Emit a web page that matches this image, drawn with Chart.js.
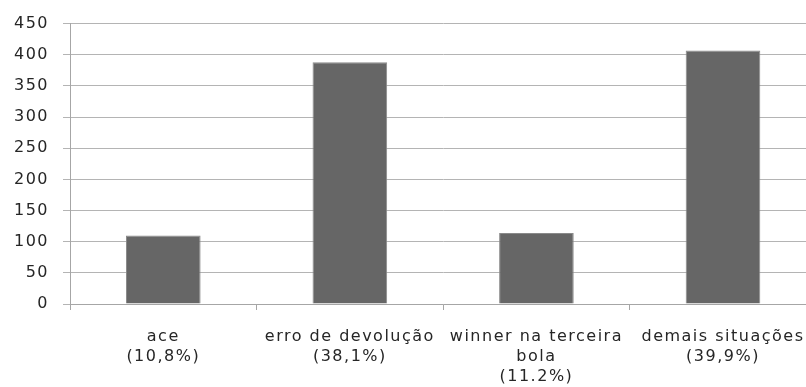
<!DOCTYPE html>
<html>
<head>
<meta charset="utf-8">
<script src="https://cdn.jsdelivr.net/npm/chart.js@4"></script>
<style>
  html, body { margin: 0; padding: 0; background: #fff; overflow: hidden; }
  #wrap { position: relative; width: 822px; height: 387px; }
</style>
</head>
<body>
<div id="wrap"><canvas id="c"></canvas></div>
<script>
// Serve outcomes: category labels (multi-line) and point counts
const categories = [
  ['ace', '(10,8%)'],
  ['erro de devolução', '(38,1%)'],
  ['winner na terceira', 'bola', '(11.2%)'],
  ['demais situações', '(39,9%)']
];
const values = [110, 388, 114, 407];
const yTicks = [0, 50, 100, 150, 200, 250, 300, 350, 400, 450];

// Wide letter spacing for all chart text
const spacing = {
  id: 'spacing',
  beforeLayout(chart) { chart.ctx.letterSpacing = '1.5px'; },
  beforeDraw(chart) { chart.ctx.letterSpacing = '1.5px'; }
};

new Chart(document.getElementById('c'), {
  type: 'bar',
  data: {
    labels: categories,
    datasets: [{
      data: values,
      backgroundColor: '#666666',
      borderColor: '#8a8a8a',
      borderWidth: 1,
      barPercentage: 0.4,
      categoryPercentage: 1
    }]
  },
  options: {
    responsive: true,
    maintainAspectRatio: false,
    animation: false,
    layout: { padding: { top: 16, right: 4, left: 0, bottom: 0 } },
    plugins: { legend: { display: false }, tooltip: { enabled: false } },
    scales: {
      x: {
        grid: {
          offset: true,
          drawOnChartArea: false,
          drawTicks: true,
          tickLength: 6,
          color: '#a6a6a6'
        },
        border: { color: '#a6a6a6', width: 1 },
        ticks: {
          color: '#262626',
          font: { family: 'DejaVu Sans', size: 16, lineHeight: 1.25 },
          padding: 17,
          maxRotation: 0,
          autoSkip: false
        },
        afterFit(scale) { scale.height = 83; }
      },
      y: {
        min: 0,
        max: 450,
        afterBuildTicks(scale) { scale.ticks = yTicks.map(v => ({ value: v })); },
        grid: { color: '#b4b4b4', lineWidth: 1, tickLength: 7 },
        border: { color: '#a6a6a6', width: 1 },
        ticks: {
          color: '#262626',
          font: { family: 'DejaVu Sans', size: 16 },
          padding: 14
        },
        afterFit(scale) { scale.width = 70; }
      }
    }
  },
  plugins: [spacing]
});
</script>
</body>
</html>
